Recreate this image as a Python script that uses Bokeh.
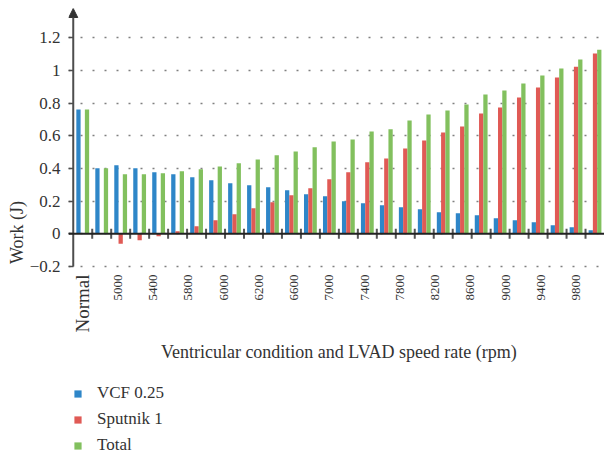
import numpy as np
from bokeh.plotting import figure
from bokeh.models import (ColumnDataSource, Range1d, FixedTicker, Legend, Span, Title,
                          LegendItem, CustomJSTickFormatter, Arrow, NormalHead)
from bokeh.core.properties import value
from bokeh.embed import file_html
from bokeh.resources import INLINE

# ---- data ----
x_tick_labels = ["Normal", "5000", "5400", "5800", "6000", "6200", "6600", "7000",
                 "7400", "7800", "8200", "8600", "9000", "9400", "9800"]
series_names = ["VCF 0.25", "Sputnik 1", "Total"]
vcf = [0.762, 0.401, 0.420, 0.401, 0.377, 0.365, 0.346, 0.328, 0.310, 0.297,
       0.285, 0.267, 0.242, 0.230, 0.200, 0.187, 0.175, 0.163, 0.151, 0.132,
       0.126, 0.114, 0.096, 0.084, 0.071, 0.053, 0.041, 0.022]
sputnik = [0.0, 0.0, -0.061, -0.039, -0.014, 0.016, 0.047, 0.084, 0.120, 0.157,
           0.193, 0.236, 0.279, 0.334, 0.377, 0.438, 0.462, 0.523, 0.572, 0.621,
           0.658, 0.737, 0.774, 0.835, 0.896, 0.957, 1.024, 1.104]
total = [0.762, 0.401, 0.365, 0.365, 0.371, 0.383, 0.395, 0.413, 0.432, 0.456,
         0.481, 0.505, 0.530, 0.566, 0.578, 0.627, 0.640, 0.694, 0.731, 0.756,
         0.792, 0.853, 0.878, 0.921, 0.969, 1.012, 1.067, 1.128]
y_ticks = [-0.2, 0, 0.2, 0.4, 0.6, 0.8, 1.0, 1.2]
x_title = "Ventricular condition and LVAD speed rate (rpm)"
y_title = "Work (J)"

# ---- styles ----
colors = ["#2E86C8", "#E05A55", "#82C05E"]
x_label_sizes = ["19px"] + ["13px"] * (len(x_tick_labels) - 1)
FONT = "Liberation Serif"
TXT = "#333333"
AX = "#4d4d4d"

n = len(vcf)
idx = np.arange(n)
bw = 0.225
src = ColumnDataSource(dict(x=idx, vcf=vcf, sputnik=sputnik, total=total,
                            x0=idx - bw, x2=idx + bw))

W, H = 604, 456
top_border = 8
y_top = 1.38
px_per_unit = 163.3
y_bottom = y_top - (H - top_border) / px_per_unit   # frame continues below -0.2

p = figure(width=W, height=H, output_backend="svg", toolbar_location=None,
           x_range=Range1d(-0.75, n - 0.5), y_range=Range1d(y_bottom, y_top),
           min_border_top=top_border, min_border_right=0, min_border_left=68,
           min_border_bottom=0)
p.outline_line_color = None
p.background_fill_color = "white"
p.xaxis.visible = False
p.xgrid.visible = False

r1 = p.vbar(x="x0", top="vcf", width=bw, source=src, fill_color=colors[0], line_color=None)
r2 = p.vbar(x="x", top="sputnik", width=bw, source=src, fill_color=colors[1], line_color=None)
r3 = p.vbar(x="x2", top="total", width=bw, source=src, fill_color=colors[2], line_color=None)

# dotted grid
p.ygrid.ticker = FixedTicker(ticks=y_ticks)
p.ygrid.grid_line_color = "#808080"
p.ygrid.grid_line_width = 1.5
p.ygrid.grid_line_dash = "2 10"

# y axis ticks + labels
ya = p.yaxis[0]
ya.ticker = FixedTicker(ticks=y_ticks, minor_ticks=[])
ya.formatter = CustomJSTickFormatter(code="""
const v = Math.round(tick * 10) / 10;
return v < 0 ? '\u2212' + String(-v) : String(v);
""")
ya.axis_line_color = None
ya.major_label_text_font = FONT
ya.major_label_text_font_size = "17px"
ya.major_label_text_color = TXT
ya.major_label_standoff = 8
ya.major_tick_in = 5
ya.major_tick_out = 0
ya.major_tick_line_width = 1.5
ya.major_tick_line_color = AX

# y axis title
p.add_layout(Title(text=y_title, align="center", offset=96, standoff=0,
                   text_font=FONT, text_font_size="18px", text_font_style="normal",
                   text_color=TXT), "left")

# y axis line with arrow head
x_axis_pos = idx[0] - 0.5
p.add_layout(Arrow(end=NormalHead(size=9, fill_color="#333333", line_color="#333333"),
                   x_start=x_axis_pos, y_start=y_ticks[0],
                   x_end=x_axis_pos, y_end=y_top,
                   line_color=AX, line_width=2))

# zero line with group-boundary tick marks
p.add_layout(Span(location=0, dimension="width", line_color="#222222", line_width=2))
p.scatter(x=(idx[:-1] + 0.5), y=np.zeros(n - 1), marker="dash", angle=np.pi / 2,
          size=10, line_color="#555555", line_width=2)

# category labels below the plot area
label_pos = np.linspace(0, n - 2, len(x_tick_labels))
lsrc = ColumnDataSource(dict(x=label_pos, y=[y_ticks[0]] * len(x_tick_labels),
                             text=x_tick_labels, size=x_label_sizes))
p.text(x="x", y="y", text="text", source=lsrc, angle=np.pi / 2,
       text_align="right", text_baseline="middle", y_offset=8,
       text_font=value(FONT), text_font_size="size", text_color=TXT)

# x axis title
p.text(x=[(x_axis_pos + n - 0.5) / 2], y=[y_ticks[0]], text=[x_title],
       text_align="center", text_baseline="middle", y_offset=85,
       text_font=value(FONT), text_font_size="18px", text_color=TXT)

legend = Legend(items=[LegendItem(label=series_names[i], renderers=[r])
                       for i, r in enumerate([r1, r2, r3])],
                location=(5, 1), margin=0, padding=0, border_line_color=None,
                background_fill_alpha=0, glyph_width=9, glyph_height=9,
                label_standoff=15, label_text_font=FONT, label_text_font_size="17px",
                label_text_color=TXT, spacing=6, label_height=20, orientation="vertical")
p.add_layout(legend, "center")

open("out.html", "w").write(file_html(p, INLINE))
